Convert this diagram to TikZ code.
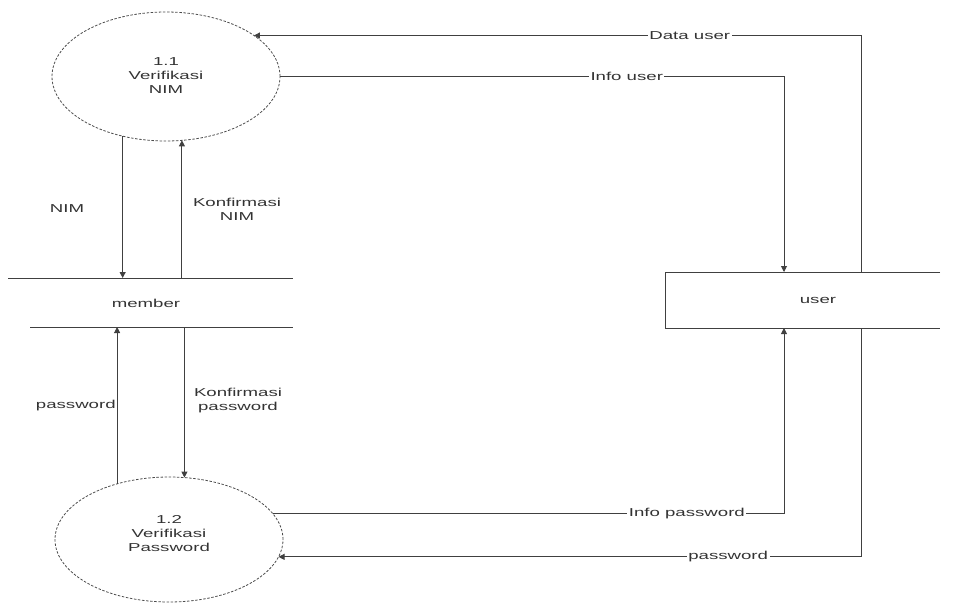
\documentclass[tikz,border=0pt]{standalone}
\usepackage{fontspec}
\setmainfont{Liberation Sans}[FakeStretch=1.62]
\usetikzlibrary{arrows.meta,shapes.geometric}
\begin{document}
\begin{tikzpicture}[x=1pt,y=-1pt,
  font=\fontsize{11.5}{14}\selectfont,
  flow/.style={draw=black!75,line width=0.9pt,-{Triangle[length=6pt,width=6pt]}},
  plain/.style={draw=black!75,line width=0.9pt},
  proc/.style={ellipse,draw=black!70,line width=0.8pt,dash pattern=on 2.5pt off 1.6pt,
    minimum width=228pt,inner sep=0pt,outer sep=0pt},
  store/.style={rectangle,inner sep=0pt,outer sep=0pt},
  lbl/.style={fill=white,inner sep=1.5pt,text=black!80},
  txt/.style={align=center,text=black!80,inner sep=0pt}]

\useasboundingbox (0,0) rectangle (959,605);

% processes
\node[proc,minimum height=129pt] (e1) at (166,76.5) {};
\node[txt] (e1t) at (166,76) {1.1\\Verifikasi\\NIM};
\node[proc,minimum height=125pt] (e2) at (169,539.5) {};
\node[txt] (e2t) at (169,534) {1.2\\Verifikasi\\Password};

% data store: member
\node[store,minimum width=285pt,minimum height=49pt] (mstore) at (150.5,302.5) {};
\node[txt] (mtext) at (146,303) {member};
\draw[plain] (mstore.north west) -- (mstore.north east);
\draw[plain] ([xshift=22pt]mstore.south west) -- (mstore.south east);

% data store: user
\node[store,minimum width=275pt,minimum height=56pt] (ustore) at (802.5,300) {};
\node[txt] (utext) at (818,300) {user};
\draw[plain] (ustore.north east) -- (ustore.north west) -- (ustore.south west) -- (ustore.south east);

\coordinate (xa) at (784,0);
\coordinate (xb) at (861,0);

% flows between processes and member
\draw[flow] (e1.234) -- (e1.234 |- mstore.north);
\draw[flow] (e1.284 |- mstore.north) -- (e1.284);
\draw[flow] (e2.133) -- node[txt,pos=0.5,left=1pt] (lpw) {password} (e2.133 |- mstore.south);
\draw[flow] (e2.76 |- mstore.south) -- (e2.76);
\node[txt] (lnim) at (67,209) {NIM};
\node[txt] (lknim) at (237,209) {Konfirmasi\\NIM};
\node[txt] (lkpw) at (238,401) {Konfirmasi\\password};

% flows between processes and user
\draw[flow] (e1.east) -| node[lbl,pos=0.344] (liu) {Info user} (xa |- ustore.north);
\draw[flow] (xb |- ustore.north) |- node[lbl,pos=0.641] (ldu) {Data user} (e1.25);
\draw[flow] (e2.14) -| node[lbl,pos=0.405] (lip) {Info password} (xa |- ustore.south);
\draw[flow] (xb |- ustore.south) |- node[lbl,pos=0.614] (lpw2) {password} (e2.351);

\end{tikzpicture}
\end{document}
